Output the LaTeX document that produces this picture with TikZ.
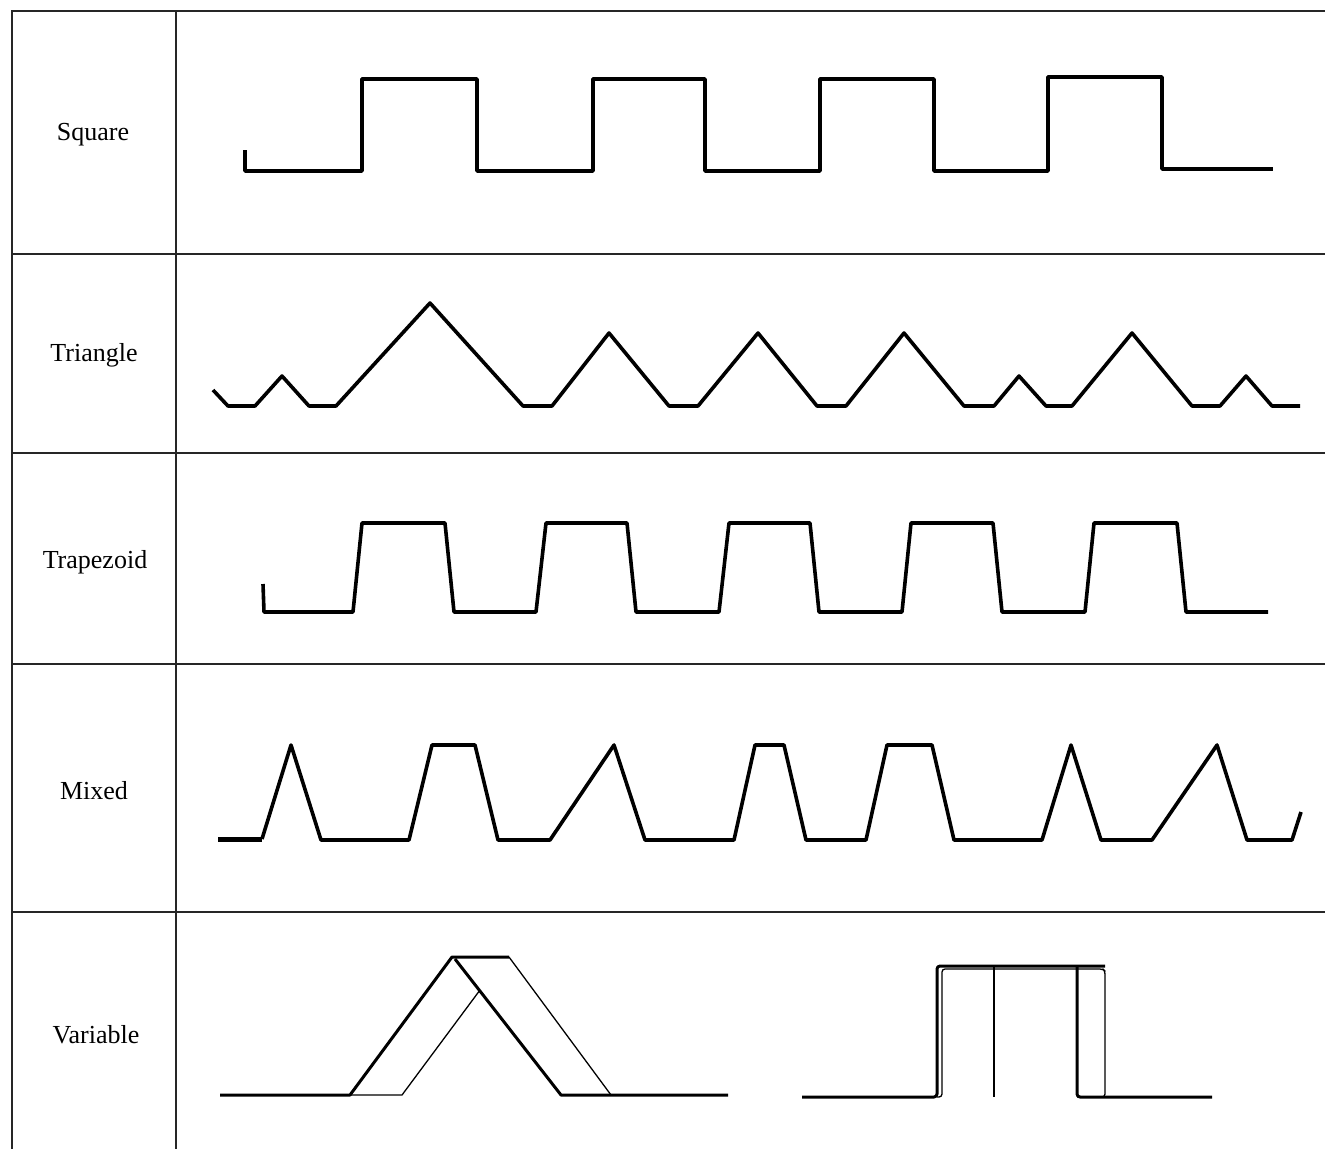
\documentclass[tikz,border=0pt]{standalone}
\usepackage{fontspec}
\setmainfont{Liberation Serif}
\usepackage{tikz}
\usetikzlibrary{positioning}

\begin{document}
\begin{tikzpicture}[
    x=1pt, y=-1pt,
    gridline/.style={black!85, line width=1.3pt},
    wave/.style={black, line width=3.6pt, line join=round},
    thinwave/.style={black, line width=1.3pt, line join=round},
    rowlabel/.style={font=\fontsize{26}{30}\selectfont, inner sep=0pt}
  ]
  \useasboundingbox (0,0) rectangle (1325,1149);

  % Table
  \draw[gridline] (1325,11) -- (12,11) -- (12,1149);
  \draw[gridline] (176,11) -- (176,1149);
  \foreach \yy in {254,453,664,912}
    \draw[gridline] (12,\yy) -- (1325,\yy);

  % Row labels
  \node[rowlabel] (sq) at (93,135) {Square};
  \node[rowlabel] (tri) at (94,355) {Triangle};
  \node[rowlabel] (trap) at (95,562) {Trapezoid};
  \node[rowlabel] (mix) at (94,791) {Mixed};
  \node[rowlabel] (var) at (96,1035) {Variable};

  % Square wave
  \draw[wave] (245,150) -- (245,171) -- (362,171) -- (362,79) -- (477,79)
    -- (477,171) -- (593,171) -- (593,79) -- (705,79) -- (705,171)
    -- (820,171) -- (820,79) -- (934,79) -- (934,171) -- (1048,171)
    -- (1048,77) -- (1162,77) -- (1162,169) -- (1273,169);

  % Triangle wave
  \draw[wave] (213,390) -- (228,406) -- (255,406) -- (282,376) -- (309,406)
    -- (336,406) -- (430,303) -- (523,406) -- (552,406) -- (609,333)
    -- (669,406) -- (698,406) -- (758,333) -- (817,406) -- (846,406)
    -- (904,333) -- (964,406) -- (994,406) -- (1019,376) -- (1046,406)
    -- (1072,406) -- (1132,333) -- (1192,406) -- (1220,406) -- (1246,376)
    -- (1272,406) -- (1300,406);

  % Trapezoid wave
  \draw[wave] (263,584) -- (264,612) -- (353,612) -- (362,523) -- (445,523)
    -- (454,612) -- (536,612) -- (546,523) -- (627,523) -- (636,612)
    -- (719,612) -- (729,523) -- (810,523) -- (819,612) -- (902,612)
    -- (911,523) -- (993,523) -- (1002,612) -- (1085,612) -- (1094,523)
    -- (1177,523) -- (1186,612) -- (1268,612);

  % Mixed wave
  \draw[wave, line width=5pt] (218,839) -- (262,839);
  \draw[wave] (262,839) -- (291,745) -- (321,840) -- (409,840) -- (432,745)
    -- (475,745) -- (498,840) -- (550,840) -- (614,745) -- (645,840)
    -- (734,840) -- (755,745) -- (784,745) -- (806,840) -- (866,840)
    -- (887,745) -- (932,745) -- (954,840) -- (1042,840) -- (1071,745)
    -- (1101,840) -- (1152,840) -- (1217,745) -- (1247,840) -- (1292,840)
    -- (1301,812);

  % Variable ramp
  \draw[wave, line width=3pt] (220,1095) -- (350,1095) -- (452,957) -- (509,957);
  \draw[wave, line width=3pt] (455,959) -- (561,1095) -- (728,1095);
  \draw[thinwave] (350,1095) -- (402,1095) -- (480,990);
  \draw[thinwave] (509,957) -- (611,1095);

  % Variable pulse
  \draw[wave, line width=3pt, rounded corners=3pt] (802,1097) -- (937,1097)
    -- (937,966) -- (1105,966);
  \draw[wave, line width=3pt, rounded corners=3pt] (1077,966) -- (1077,1097)
    -- (1212,1097);
  \draw[thinwave, rounded corners=3pt] (937,1097) -- (942,1097) -- (942,969)
    -- (1103,969) -- (1105,971) -- (1105,1097) -- (1077,1097);
  \draw[thinwave] (994,966) -- (994,1097);
\end{tikzpicture}
\end{document}
